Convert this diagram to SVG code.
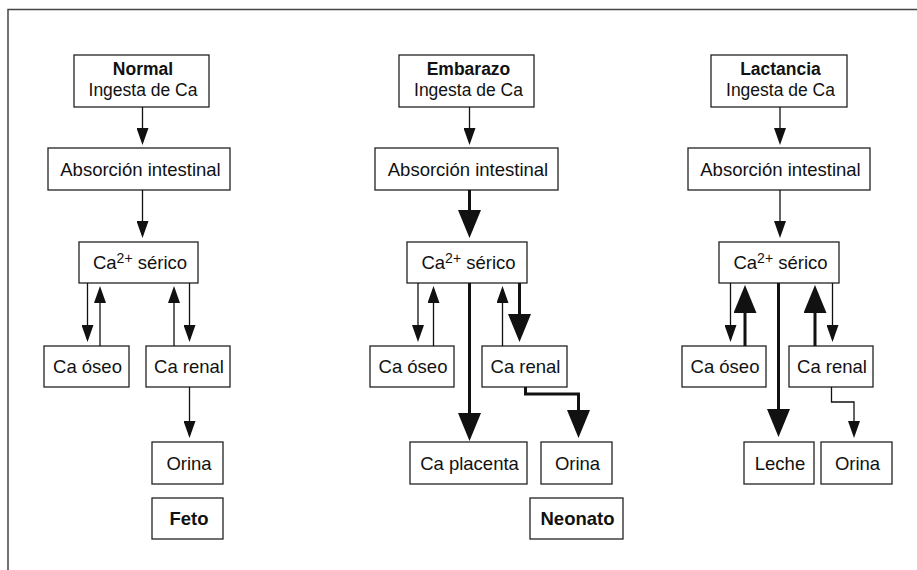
<svg xmlns="http://www.w3.org/2000/svg" width="917" height="570" viewBox="0 0 917 570">
<style>
  .box { fill: #ffffff; stroke: #222222; stroke-width: 1.3; }
  .t { font-family: "Liberation Sans", Arial, sans-serif; font-size: 18.5px; fill: #111111; text-anchor: middle; }
  .h { font-size: 17.5px; }
  .b { font-weight: bold; }
  .thin { fill: none; stroke: #111111; stroke-width: 1.3; marker-end: url(#hThin); }
  .thick { fill: none; stroke: #111111; stroke-width: 3; marker-end: url(#hThick); }
</style>
<defs>
  <marker id="hThin" markerUnits="userSpaceOnUse" markerWidth="17" markerHeight="12" refX="14" refY="6" orient="auto" viewBox="0 0 17 12">
    <path d="M0,0 L17,6 L0,12 z" fill="#111111"/>
  </marker>
  <marker id="hThick" markerUnits="userSpaceOnUse" markerWidth="28" markerHeight="23" refX="22" refY="11.5" orient="auto" viewBox="0 0 28 23">
    <path d="M0,0 L28,11.5 L0,23 z" fill="#111111"/>
  </marker>
</defs>
<rect x="8" y="9.5" width="930" height="580" fill="none" stroke="#444444" stroke-width="1.5"/>

<!-- Normal column -->
<g id="n-ingesta"><rect class="box" x="74" y="55" width="135" height="52"/><text class="t h b" x="143" y="75">Normal</text><text class="t h" x="143" y="95.5">Ingesta de Ca</text></g>
<g id="n-absorcion"><rect class="box" x="48" y="148" width="182" height="42"/><text class="t" x="140.5" y="175.5">Absorción intestinal</text></g>
<g id="n-serico"><rect class="box" x="79" y="242" width="119" height="41"/><text class="t" x="140" y="269">Ca<tspan font-size="14" dy="-6">2+</tspan><tspan dy="6"> sérico</tspan></text></g>
<g id="n-oseo"><rect class="box" x="44" y="346" width="85" height="41"/><text class="t" x="87.5" y="373">Ca óseo</text></g>
<g id="n-renal"><rect class="box" x="146" y="346" width="84" height="41"/><text class="t" x="189" y="373">Ca renal</text></g>
<g id="n-orina"><rect class="box" x="152" y="442" width="71" height="42"/><text class="t" x="189" y="469.5">Orina</text></g>
<g id="n-feto"><rect class="box" x="152" y="498" width="71" height="41"/><text class="t b" x="189" y="525">Feto</text></g>

<!-- Embarazo column -->
<g id="e-ingesta"><rect class="box" x="399" y="55" width="135" height="52"/><text class="t h b" x="468.5" y="75">Embarazo</text><text class="t h" x="468.5" y="95.5">Ingesta de Ca</text></g>
<g id="e-absorcion"><rect class="box" x="375" y="148" width="183" height="42"/><text class="t" x="468" y="175.5">Absorción intestinal</text></g>
<g id="e-serico"><rect class="box" x="407" y="242" width="120" height="41"/><text class="t" x="468.5" y="269">Ca<tspan font-size="14" dy="-6">2+</tspan><tspan dy="6"> sérico</tspan></text></g>
<g id="e-oseo"><rect class="box" x="370" y="346" width="84" height="41"/><text class="t" x="413" y="373">Ca óseo</text></g>
<g id="e-renal"><rect class="box" x="482" y="346" width="85" height="41"/><text class="t" x="525.5" y="373">Ca renal</text></g>
<g id="e-placenta"><rect class="box" x="410" y="442" width="117" height="42"/><text class="t" x="469.5" y="469.5">Ca placenta</text></g>
<g id="e-orina"><rect class="box" x="541" y="442" width="71" height="42"/><text class="t" x="577.5" y="469.5">Orina</text></g>
<g id="e-neonato"><rect class="box" x="530" y="498" width="93" height="41"/><text class="t b" x="577.5" y="525">Neonato</text></g>

<!-- Lactancia column -->
<g id="l-ingesta"><rect class="box" x="711" y="55" width="136" height="52"/><text class="t h b" x="780.5" y="75">Lactancia</text><text class="t h" x="780.5" y="95.5">Ingesta de Ca</text></g>
<g id="l-absorcion"><rect class="box" x="688" y="148" width="182" height="42"/><text class="t" x="780.5" y="175.5">Absorción intestinal</text></g>
<g id="l-serico"><rect class="box" x="719" y="242" width="120" height="41"/><text class="t" x="780.5" y="269">Ca<tspan font-size="14" dy="-6">2+</tspan><tspan dy="6"> sérico</tspan></text></g>
<g id="l-oseo"><rect class="box" x="682" y="346" width="84" height="41"/><text class="t" x="725" y="373">Ca óseo</text></g>
<g id="l-renal"><rect class="box" x="789" y="346" width="84" height="41"/><text class="t" x="832" y="373">Ca renal</text></g>
<g id="l-leche"><rect class="box" x="744" y="442" width="70" height="42"/><text class="t" x="780" y="469.5">Leche</text></g>
<g id="l-orina"><rect class="box" x="821" y="442" width="71" height="42"/><text class="t" x="857.5" y="469.5">Orina</text></g>

<g id="connectors">
  <!-- Normal -->
  <path class="thin" d="M142.5,107 V142"/>
  <path class="thin" d="M142.5,190 V235"/>
  <path class="thin" d="M87.5,283 V339"/>
  <path class="thin" d="M100,346 V289"/>
  <path class="thin" d="M174,346 V289"/>
  <path class="thin" d="M189.5,283 V339"/>
  <path class="thin" d="M189.5,387 V435"/>
  <!-- Embarazo -->
  <path class="thin" d="M469.5,107 V142"/>
  <path class="thick" d="M469.5,190 V232"/>
  <path class="thin" d="M418,283 V339"/>
  <path class="thin" d="M433.5,346 V289"/>
  <path class="thin" d="M502.5,346 V289"/>
  <path class="thick" d="M519.5,283 V336"/>
  <path class="thick" d="M469.5,283 V435"/>
  <path class="thick" d="M525.5,387 V394 H578.5 V432"/>
  <!-- Lactancia -->
  <path class="thin" d="M780,107 V142"/>
  <path class="thin" d="M780,190 V235"/>
  <path class="thin" d="M730.5,283 V339"/>
  <path class="thick" d="M745,346 V291"/>
  <path class="thick" d="M815,346 V291"/>
  <path class="thin" d="M832.5,283 V339"/>
  <path class="thick" d="M778.5,283 V431"/>
  <path class="thin" d="M831.5,387 V402 H854 V435"/>
</g>
</svg>
